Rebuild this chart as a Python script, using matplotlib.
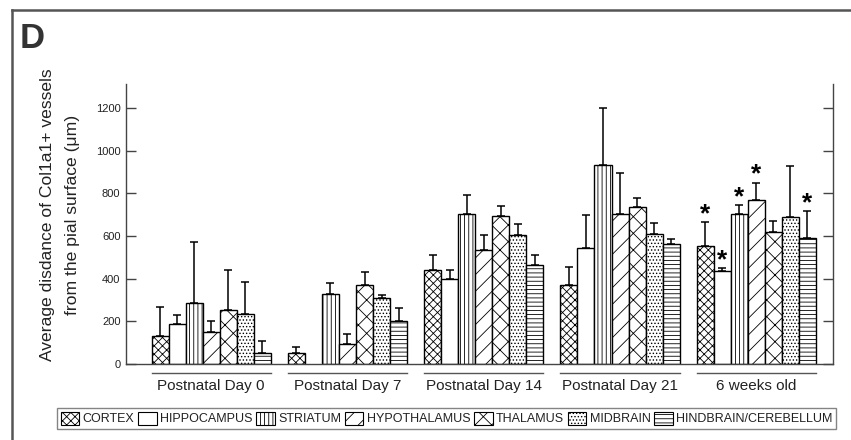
import numpy as np
import matplotlib
matplotlib.use("Agg")
import matplotlib.pyplot as plt
from matplotlib.patches import Patch
from matplotlib.lines import Line2D

# --- data (um) ---
groups = ["Postnatal Day 0", "Postnatal Day 7", "Postnatal Day 14",
          "Postnatal Day 21", "6 weeks old"]
regions = ["CORTEX", "HIPPOCAMPUS", "STRIATUM", "HYPOTHALAMUS",
           "THALAMUS", "MIDBRAIN", "HINDBRAIN/CEREBELLUM"]

cortex = [133, 50, 441, 370, 552]
hippocampus = [187, np.nan, 397, 544, 436]
striatum = [287, 328, 705, 931, 703]
hypothalamus = [152, 95, 533, 705, 769]
thalamus = [253, 371, 694, 736, 617]
midbrain = [233, 309, 606, 609, 689]
hindbrain = [53, 203, 463, 561, 592]

cortex_err = [133, 28, 68, 86, 115]
hippocampus_err = [43, np.nan, 44, 153, 14]
striatum_err = [286, 53, 89, 268, 42]
hypothalamus_err = [50, 47, 70, 191, 81]
thalamus_err = [189, 60, 47, 41, 55]
midbrain_err = [151, 13, 50, 54, 241]
hindbrain_err = [55, 61, 46, 26, 125]

# significance marks, 6 weeks old only
sig_6wk = [True, True, True, True, False, False, True]

means = [cortex, hippocampus, striatum, hypothalamus, thalamus, midbrain, hindbrain]
errs = [cortex_err, hippocampus_err, striatum_err, hypothalamus_err,
        thalamus_err, midbrain_err, hindbrain_err]
hatches = ["xxxx", "", "||||", "//", "xx", ".....", "----"]

plt.rcParams["font.family"] = ["Liberation Sans", "DejaVu Sans"]
plt.rcParams["hatch.linewidth"] = 0.6
txt_col = "#222222"
ax_col = "#444444"

fig = plt.figure(figsize=(8.51, 4.40), dpi=100)
ax = fig.add_axes([126 / 851, 76 / 440, 707 / 851, 280 / 440])

n_reg = len(regions)
step = n_reg + 1  # one empty bar slot between groups
base = np.arange(len(groups)) * step

for i in range(n_reg):
    x = base + i
    m = np.array(means[i], dtype=float)
    e = np.array(errs[i], dtype=float)
    ok = ~np.isnan(m)
    ax.bar(x[ok], m[ok], width=1.0, color="white", edgecolor="black",
           linewidth=1.0, hatch=hatches[i], zorder=2)
    ax.errorbar(x[ok], m[ok], yerr=[np.zeros(ok.sum()), e[ok]], fmt="none",
                ecolor="black", elinewidth=1.1, capsize=3.2, capthick=1.1,
                zorder=1)
    if sig_6wk[i]:
        top = m[-1] + e[-1]
        ax.annotate("*", (x[-1], top), xytext=(0, -3), textcoords="offset points",
                    ha="center", va="bottom", fontsize=19, fontweight="bold",
                    color="black")

# axes styling
ax.set_xlim(-2.0, base[-1] + n_reg - 1 + 1.5)
ax.set_ylim(0, 1312)
ax.set_yticks(np.arange(0, 1201, 200))
ax.set_xticks([])
ax.spines["top"].set_visible(False)
for s in ["left", "right", "bottom"]:
    ax.spines[s].set_color(ax_col)
    ax.spines[s].set_linewidth(1.0)
ax.tick_params(axis="y", direction="in", length=7, width=1.0, color=ax_col,
               labelsize=8, labelcolor=txt_col, pad=4, right=True)

# group underlines and labels
trans = ax.get_xaxis_transform()
for g, name in enumerate(groups):
    x0 = base[g] - 0.5
    x1 = base[g] + n_reg - 0.5
    ax.plot([x0, x1], [-0.032, -0.032], transform=trans, color="#555555",
            lw=1.0, clip_on=False)
    ax.text((x0 + x1) / 2, -0.078, name, transform=trans, ha="center",
            va="center", fontsize=11, color=txt_col)

# y label, two lines placed separately
fig.text(48 / 851, 1 - 215 / 440, "Average disdance of Col1a1+ vessels",
         rotation=90, ha="center", va="center", fontsize=12.6, color=txt_col)
fig.text(73 / 851, 1 - 215 / 440, "from the pial surface (\u03bcm)",
         rotation=90, ha="center", va="center", fontsize=12.6, color=txt_col)

fig.text(20 / 851, 1 - 48 / 440, "D", fontsize=25, fontweight="bold",
         color="#333333", ha="left", va="baseline")

# legend
handles = [Patch(facecolor="white", edgecolor="black", hatch=h, linewidth=0.8)
           for h in hatches]
leg = fig.legend(handles, regions, loc="center",
                 bbox_to_anchor=(446.5 / 851, 1 - 418.5 / 440), ncol=n_reg,
                 fontsize=9, frameon=True, fancybox=False, handlelength=1.5,
                 handleheight=1.25, handletextpad=0.25, columnspacing=0.3,
                 borderpad=0.25, borderaxespad=0)
leg.get_frame().set_edgecolor("#666666")
leg.get_frame().set_linewidth(1.0)
for t in leg.get_texts():
    t.set_color(txt_col)

# panel border (top and left edges visible)
fig.add_artist(Line2D([12 / 851, 1.0], [1 - 10 / 440, 1 - 10 / 440],
                      transform=fig.transFigure, color="#555555", lw=1.8))
fig.add_artist(Line2D([12 / 851, 12 / 851], [0, 1 - 10 / 440],
                      transform=fig.transFigure, color="#555555", lw=1.8))

fig.savefig("out.png", dpi=100)
